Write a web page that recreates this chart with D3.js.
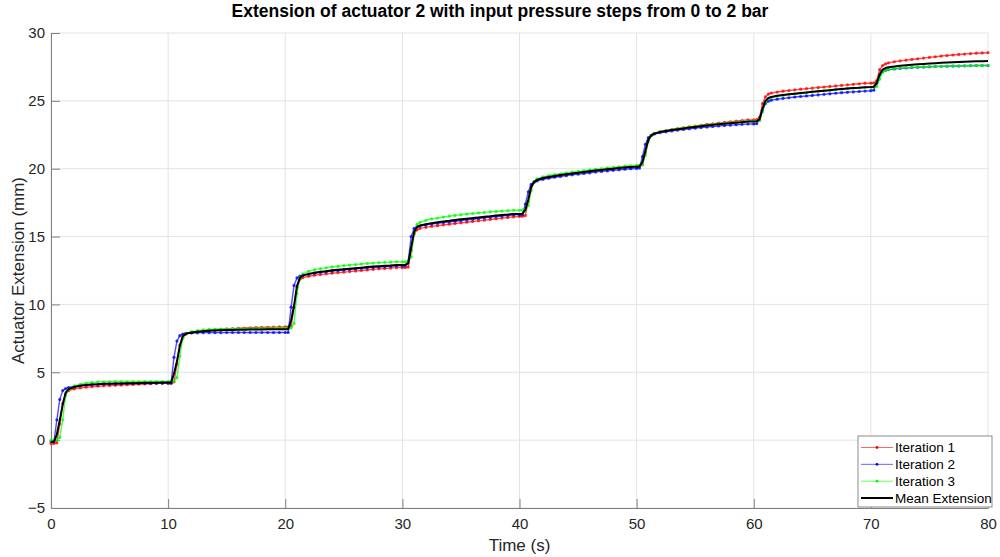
<!DOCTYPE html>
<html>
<head>
<meta charset="utf-8">
<script src="https://cdn.jsdelivr.net/npm/d3@7"></script>
<style>
  html, body { margin: 0; padding: 0; background: #fff; }
  svg { display: block; font-family: "Liberation Sans", Arial, Helvetica, sans-serif; }
  .axis text { fill: #262626; font-size: 15px; }
  .grid line { stroke: #e3e3e3; }
</style>
</head>
<body>
<svg id="chart" width="1000" height="557"></svg>
<script>
// Step response of actuator 2: three iterations plus their mean, sampled per pressure step.

const stepStarts = [0, 10, 20, 30, 40, 50, 60, 70];
const stepOffsets = [0, 0.25, 0.5, 0.75, 1, 1.25, 1.5, 2, 2.5, 3, 3.5, 4, 4.5, 5, 5.5, 6, 6.5, 7, 7.5, 8, 8.5, 9, 9.5];
const endTime = 80;

const iteration1 = [
  -0.25, -0.25, -0.2, 1.2, 2.7, 3.4, 3.65, 3.78, 3.85, 3.9, 3.94, 3.97, 4.0, 4.02, 4.04, 4.06, 4.08, 4.1, 4.12, 4.14, 4.16, 4.18, 4.2,
  4.2, 4.2, 4.3, 5.6, 7.0, 7.6, 7.8, 7.92, 8.0, 8.05, 8.1, 8.13, 8.16, 8.19, 8.22, 8.24, 8.26, 8.28, 8.3, 8.31, 8.32, 8.33, 8.34,
  8.34, 8.34, 8.4, 9.8, 11.3, 11.85, 11.98, 12.08, 12.15, 12.2, 12.25, 12.3, 12.34, 12.38, 12.42, 12.46, 12.5, 12.54, 12.58, 12.62, 12.65, 12.68, 12.71,
  12.71, 12.72, 12.75, 14.0, 15.2, 15.5, 15.6, 15.68, 15.75, 15.8, 15.86, 15.91, 15.96, 16.01, 16.06, 16.11, 16.16, 16.21, 16.26, 16.31, 16.36, 16.4, 16.45,
  16.48, 16.5, 16.55, 17.6, 18.7, 19.05, 19.18, 19.3, 19.38, 19.45, 19.52, 19.58, 19.64, 19.7, 19.76, 19.82, 19.88, 19.93, 19.98, 20.03, 20.08, 20.12, 20.16,
  20.2, 20.22, 20.3, 21.2, 22.1, 22.45, 22.6, 22.72, 22.8, 22.88, 22.95, 23.02, 23.08, 23.14, 23.2, 23.26, 23.31, 23.36, 23.41, 23.46, 23.51, 23.55, 23.6,
  23.6, 23.62, 23.8, 24.8, 25.3, 25.5, 25.58, 25.65, 25.71, 25.76, 25.81, 25.86, 25.9, 25.94, 25.98, 26.02, 26.06, 26.1, 26.14, 26.18, 26.22, 26.26, 26.3,
  26.3, 26.32, 26.5, 27.3, 27.6, 27.72, 27.8, 27.88, 27.95, 28.0, 28.05, 28.1, 28.15, 28.2, 28.25, 28.3, 28.34, 28.38, 28.42, 28.45, 28.48, 28.51, 28.53,
  28.55
];

const iteration2 = [
  -0.1, -0.1, 1.5, 3.0, 3.65, 3.8, 3.88, 3.97, 4.03, 4.07, 4.1, 4.12, 4.14, 4.15, 4.16, 4.17, 4.18, 4.18, 4.19, 4.19, 4.2, 4.2, 4.2,
  4.2, 4.2, 6.1, 7.3, 7.7, 7.82, 7.87, 7.9, 7.91, 7.92, 7.92, 7.92, 7.92, 7.93, 7.93, 7.93, 7.93, 7.93, 7.93, 7.93, 7.93, 7.93, 7.93,
  7.93, 7.93, 9.8, 11.4, 11.95, 12.08, 12.15, 12.23, 12.3, 12.36, 12.41, 12.46, 12.5, 12.54, 12.58, 12.62, 12.66, 12.7, 12.73, 12.76, 12.79, 12.82, 12.85,
  12.85, 12.86, 13.2, 15.0, 15.6, 15.72, 15.78, 15.85, 15.92, 15.98, 16.03, 16.08, 16.13, 16.18, 16.23, 16.28, 16.33, 16.38, 16.43, 16.48, 16.52, 16.56, 16.6,
  16.6, 16.62, 17.4, 18.3, 18.85, 19.0, 19.1, 19.22, 19.3, 19.37, 19.43, 19.49, 19.55, 19.6, 19.65, 19.7, 19.75, 19.8, 19.84, 19.88, 19.92, 19.96, 20.0,
  20.02, 20.05, 20.9, 21.8, 22.3, 22.45, 22.55, 22.65, 22.72, 22.78, 22.84, 22.89, 22.94, 22.99, 23.03, 23.07, 23.11, 23.15, 23.18, 23.21, 23.24, 23.27, 23.3,
  23.3, 23.32, 23.6, 24.3, 24.8, 24.98, 25.05, 25.12, 25.18, 25.23, 25.28, 25.32, 25.36, 25.4, 25.44, 25.48, 25.52, 25.56, 25.6, 25.63, 25.66, 25.69, 25.72,
  25.75, 25.78, 26.3, 26.9, 27.15, 27.25, 27.3, 27.35, 27.39, 27.42, 27.45, 27.47, 27.49, 27.51, 27.53, 27.54, 27.55, 27.56, 27.57, 27.58, 27.59, 27.6, 27.6,
  27.6
];

const iteration3 = [
  0.0, 0.0, 0.0, 0.2, 1.5, 3.3, 3.75, 4.0, 4.12, 4.2, 4.25, 4.28, 4.3, 4.31, 4.32, 4.32, 4.32, 4.32, 4.32, 4.32, 4.32, 4.32, 4.32,
  4.32, 4.32, 4.35, 4.6, 6.2, 7.5, 7.85, 8.0, 8.07, 8.12, 8.15, 8.17, 8.19, 8.2, 8.21, 8.22, 8.22, 8.23, 8.23, 8.24, 8.24, 8.25, 8.25,
  8.25, 8.25, 8.27, 8.6, 10.8, 11.95, 12.25, 12.45, 12.56, 12.64, 12.7, 12.76, 12.81, 12.86, 12.9, 12.94, 12.98, 13.02, 13.05, 13.08, 13.1, 13.12, 13.14,
  13.14, 13.14, 13.15, 13.5, 15.2, 15.9, 16.05, 16.2, 16.3, 16.37, 16.44, 16.5, 16.56, 16.61, 16.66, 16.7, 16.74, 16.78, 16.82, 16.85, 16.88, 16.91, 16.94,
  16.94, 16.95, 16.96, 17.3, 18.4, 19.05, 19.25, 19.4, 19.5, 19.57, 19.63, 19.69, 19.75, 19.8, 19.86, 19.91, 19.96, 20.01, 20.06, 20.1, 20.14, 20.18, 20.22,
  20.24, 20.25, 20.3, 21.0, 22.0, 22.45, 22.6, 22.72, 22.81, 22.88, 22.95, 23.01, 23.07, 23.12, 23.17, 23.22, 23.27, 23.31, 23.35, 23.39, 23.43, 23.47, 23.5,
  23.52, 23.53, 23.56, 24.2, 24.9, 25.15, 25.25, 25.33, 25.4, 25.46, 25.51, 25.56, 25.61, 25.66, 25.71, 25.75, 25.79, 25.83, 25.87, 25.91, 25.94, 25.97, 26.0,
  26.0, 26.01, 26.05, 26.6, 27.1, 27.25, 27.32, 27.38, 27.42, 27.45, 27.47, 27.49, 27.51, 27.53, 27.54, 27.55, 27.56, 27.57, 27.58, 27.59, 27.6, 27.6, 27.61,
  27.62
];

const meanExtension = [
  -0.12, -0.12, 0.43, 1.47, 2.62, 3.5, 3.76, 3.92, 4.0, 4.06, 4.1, 4.12, 4.15, 4.16, 4.17, 4.18, 4.19, 4.2, 4.21, 4.22, 4.23, 4.23, 4.24,
  4.24, 4.24, 4.9, 5.8, 6.95, 7.65, 7.84, 7.94, 7.99, 8.03, 8.06, 8.08, 8.1, 8.11, 8.12, 8.13, 8.14, 8.15, 8.16, 8.16, 8.17, 8.17, 8.18,
  8.17, 8.17, 8.8, 9.9, 11.35, 11.96, 12.13, 12.25, 12.34, 12.4, 12.45, 12.51, 12.55, 12.59, 12.63, 12.67, 12.71, 12.75, 12.79, 12.82, 12.85, 12.87, 12.9,
  12.9, 12.91, 13.03, 14.2, 15.33, 15.71, 15.81, 15.91, 15.99, 16.05, 16.11, 16.16, 16.22, 16.27, 16.32, 16.36, 16.41, 16.46, 16.5, 16.55, 16.59, 16.62, 16.66,
  16.67, 16.69, 16.97, 17.73, 18.65, 19.03, 19.18, 19.31, 19.39, 19.46, 19.53, 19.59, 19.65, 19.7, 19.76, 19.81, 19.86, 19.91, 19.96, 20.0, 20.05, 20.09, 20.13,
  20.15, 20.17, 20.5, 21.33, 22.13, 22.45, 22.58, 22.7, 22.78, 22.85, 22.91, 22.97, 23.03, 23.08, 23.13, 23.18, 23.23, 23.27, 23.31, 23.35, 23.39, 23.43, 23.47,
  23.47, 23.49, 23.65, 24.43, 25.0, 25.21, 25.29, 25.37, 25.43, 25.48, 25.53, 25.58, 25.62, 25.67, 25.71, 25.75, 25.79, 25.83, 25.87, 25.91, 25.94, 25.97, 26.01,
  26.02, 26.04, 26.3, 26.95, 27.3, 27.42, 27.48, 27.54, 27.59, 27.63, 27.66, 27.69, 27.72, 27.75, 27.78, 27.8, 27.82, 27.84, 27.86, 27.88, 27.9, 27.91, 27.92,
  27.93
];

const xTicks = [0, 10, 20, 30, 40, 50, 60, 70, 80];
const yTicks = [-5, 0, 5, 10, 15, 20, 25, 30];

const seriesList = [
  { name: "Iteration 1", values: iteration1, color: "#ff0000", markers: true },
  { name: "Iteration 2", values: iteration2, color: "#0000ff", markers: true },
  { name: "Iteration 3", values: iteration3, color: "#00ff00", markers: true },
  { name: "Mean Extension", values: meanExtension, color: "#000000", markers: false },
];

const times = stepStarts.flatMap((t0) => stepOffsets.map((dt) => t0 + dt)).concat([endTime]);

const margin = { top: 33, right: 12, bottom: 49, left: 51 };
const width = 1000 - margin.left - margin.right;
const height = 557 - margin.top - margin.bottom;

const svg = d3.select("#chart");
const g = svg.append("g").attr("transform", `translate(${margin.left},${margin.top})`);

const x = d3.scaleLinear().domain([0, 80]).range([0, width]);
const y = d3.scaleLinear().domain([-5, 30]).range([height, 0]);

// grid
g.append("g")
  .attr("class", "grid")
  .selectAll("line.gx")
  .data(xTicks)
  .join("line")
  .attr("x1", (d) => x(d))
  .attr("x2", (d) => x(d))
  .attr("y1", 0)
  .attr("y2", height);

g.append("g")
  .attr("class", "grid")
  .selectAll("line.gy")
  .data(yTicks)
  .join("line")
  .attr("x1", 0)
  .attr("x2", width)
  .attr("y1", (d) => y(d))
  .attr("y2", (d) => y(d));

// axes, ticks pointing inward like MATLAB
const xAxis = d3.axisBottom(x).tickValues(xTicks).tickSizeInner(-9).tickSizeOuter(0).tickPadding(10);
const yAxis = d3.axisLeft(y).tickValues(yTicks).tickSizeInner(-9).tickSizeOuter(0).tickPadding(6);

const gx = g.append("g")
  .attr("class", "axis")
  .attr("transform", `translate(0,${height})`)
  .call(xAxis);
const gy = g.append("g").attr("class", "axis").call(yAxis);

[gx, gy].forEach((ax) => {
  ax.select(".domain").attr("stroke", "#808080");
  ax.selectAll(".tick line").attr("stroke", "#808080");
  ax.selectAll("text").attr("font-family", null).attr("font-size", null);
});

// series
const line = d3.line()
  .x((d, i) => x(times[i]))
  .y((d) => y(d));

const plot = g.append("g");
seriesList.forEach((s) => {
  plot.append("path")
    .datum(s.values)
    .attr("fill", "none")
    .attr("stroke", s.color)
    .attr("stroke-width", s.markers ? 1.4 : 2)
    .attr("stroke-opacity", s.markers ? 0.7 : 1)
    .attr("stroke-linejoin", "round")
    .attr("d", line);

  if (s.markers) {
    plot.append("g")
      .selectAll("circle")
      .data(s.values)
      .join("circle")
      .attr("cx", (d, i) => x(times[i]))
      .attr("cy", (d) => y(d))
      .attr("r", 1.6)
      .attr("fill", s.color)
      .attr("fill-opacity", 0.75);
  }
});

// title and labels
svg.append("text")
  .attr("x", 500)
  .attr("y", 17)
  .attr("text-anchor", "middle")
  .attr("font-size", 17.5)
  .attr("font-weight", "bold")
  .attr("fill", "#000")
  .text("Extension of actuator 2 with input pressure steps from 0 to 2 bar");

svg.append("text")
  .attr("x", margin.left + width / 2)
  .attr("y", 551)
  .attr("text-anchor", "middle")
  .attr("font-size", 17)
  .attr("fill", "#262626")
  .text("Time (s)");

svg.append("text")
  .attr("transform", `translate(24,${margin.top + height / 2}) rotate(-90)`)
  .attr("text-anchor", "middle")
  .attr("font-size", 17)
  .attr("fill", "#262626")
  .text("Actuator Extension (mm)");

// legend, lower right inside the axes
const legend = svg.append("g").attr("transform", "translate(858,436)");
legend.append("rect")
  .attr("width", 134)
  .attr("height", 71)
  .attr("fill", "#fff")
  .attr("stroke", "#8c8c8c")
  .attr("stroke-width", 1);

const rowY = d3.scalePoint().domain(seriesList.map((s) => s.name)).range([11.5, 62]);
const items = legend.selectAll("g.item")
  .data(seriesList)
  .join("g")
  .attr("class", "item")
  .attr("transform", (d) => `translate(0,${rowY(d.name)})`);

items.append("line")
  .attr("x1", 3)
  .attr("x2", 35)
  .attr("stroke", (d) => d.color)
  .attr("stroke-width", (d) => (d.markers ? 1 : 2))
  .attr("stroke-opacity", (d) => (d.markers ? 0.6 : 1));

items.filter((d) => d.markers)
  .append("circle")
  .attr("cx", 19)
  .attr("r", 1.4)
  .attr("fill", (d) => d.color);

items.append("text")
  .attr("x", 37)
  .attr("dy", "0.35em")
  .attr("font-size", 13.5)
  .attr("fill", "#000")
  .text((d) => d.name);
</script>
</body>
</html>
